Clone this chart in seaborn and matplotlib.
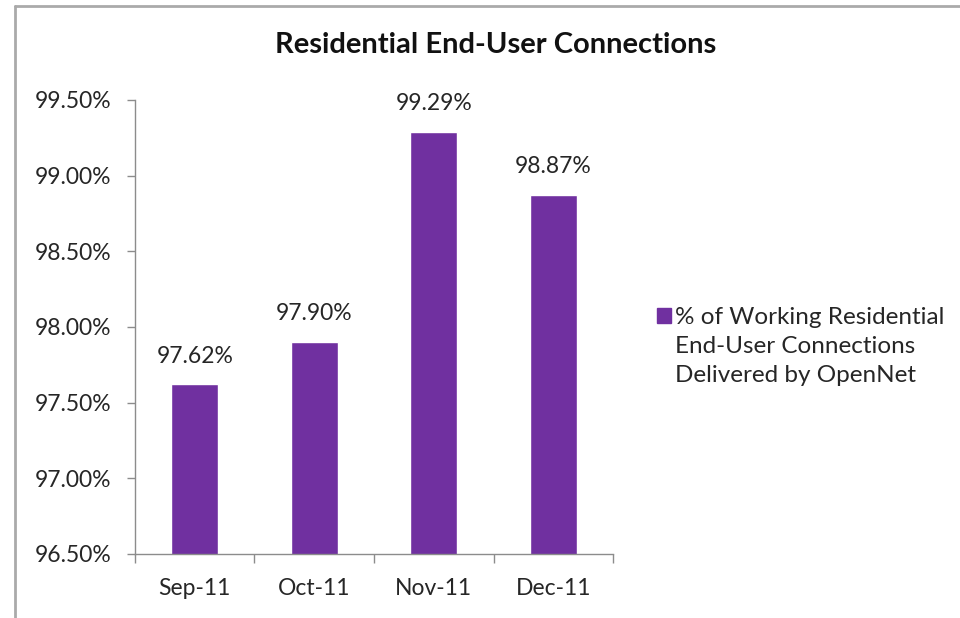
import matplotlib
matplotlib.use("Agg")
import matplotlib.pyplot as plt
import seaborn as sns
import pandas as pd
from matplotlib.ticker import FixedLocator

months = ["Sep-11", "Oct-11", "Nov-11", "Dec-11"]
values = [97.62, 97.90, 99.29, 98.87]
series_lines = ["% of Working Residential", "End-User Connections", "Delivered by OpenNet"]
series_name = " ".join(series_lines)
yticks = [96.5, 97.0, 97.5, 98.0, 98.5, 99.0, 99.5]

sns.set_style("white")
plt.rcParams["font.family"] = ["Lato", "DejaVu Sans"]

df = pd.DataFrame({"month": months, "value": values, "series": series_name})

fig = plt.figure(figsize=(9.6, 6.18), dpi=100)
ax = fig.add_axes([0.1406, 0.1036, 0.498, 0.7346])
color = "#7030A0"
sns.barplot(data=df, x="month", y="value", hue="series", palette=[color],
            width=0.39, ax=ax, legend=False, saturation=1)

txt = "#262626"
gray = "#8c8c8c"
ax.set_ylim(96.5, 99.5)
ax.set_xlim(-0.5, 3.5)
ax.set_yticks(yticks)
ax.set_yticklabels([f"{v:.2f}%" for v in yticks], fontsize=16.5, color=txt)
ax.tick_params(axis="y", length=5.8, width=1, color=gray, direction="out", pad=11, left=True)
ax.tick_params(axis="x", which="major", length=0, labelsize=16.5, pad=17, labelcolor=txt)
ax.xaxis.set_minor_locator(FixedLocator([-0.5, 0.5, 1.5, 2.5, 3.5]))
ax.tick_params(axis="x", which="minor", length=6.5, width=1, color=gray, direction="out", bottom=True)
ax.set_xlabel("")
ax.set_ylabel("")
for s in ["top", "right"]:
    ax.spines[s].set_visible(False)
for s in ["left", "bottom"]:
    ax.spines[s].set_color(gray)
    ax.spines[s].set_linewidth(1)

for i, v in enumerate(values):
    ax.annotate(f"{v:.2f}%", (i, v), xytext=(0, 20.5), textcoords="offset points",
                ha="center", va="center", fontsize=16.5, color=txt)

handles = [plt.Rectangle((0, 0), 1, 1, color=color),
           plt.Rectangle((0, 0), 1, 1, alpha=0),
           plt.Rectangle((0, 0), 1, 1, alpha=0)]
leg = fig.legend(handles, series_lines, loc="upper left", bbox_to_anchor=(0.684, 0.503),
                 frameon=False, fontsize=17.5, handlelength=0.6, handleheight=0.6,
                 handletextpad=0.15, labelspacing=0.33, borderpad=0, borderaxespad=0)
for t in leg.get_texts():
    t.set_color(txt)

fig.text(0.516, 0.927, "Residential End-User Connections", ha="center", va="center",
         fontsize=21, fontweight="bold", color="#111111")

# outer chart frame (top and left edges)
fig.add_artist(plt.Line2D([0.0155, 1.0], [0.9905, 0.9905], color="#aaaaaa", lw=2, transform=fig.transFigure))
fig.add_artist(plt.Line2D([0.0155, 0.0155], [0.0, 0.9905], color="#aaaaaa", lw=2, transform=fig.transFigure))

fig.savefig("out.png", dpi=100)
